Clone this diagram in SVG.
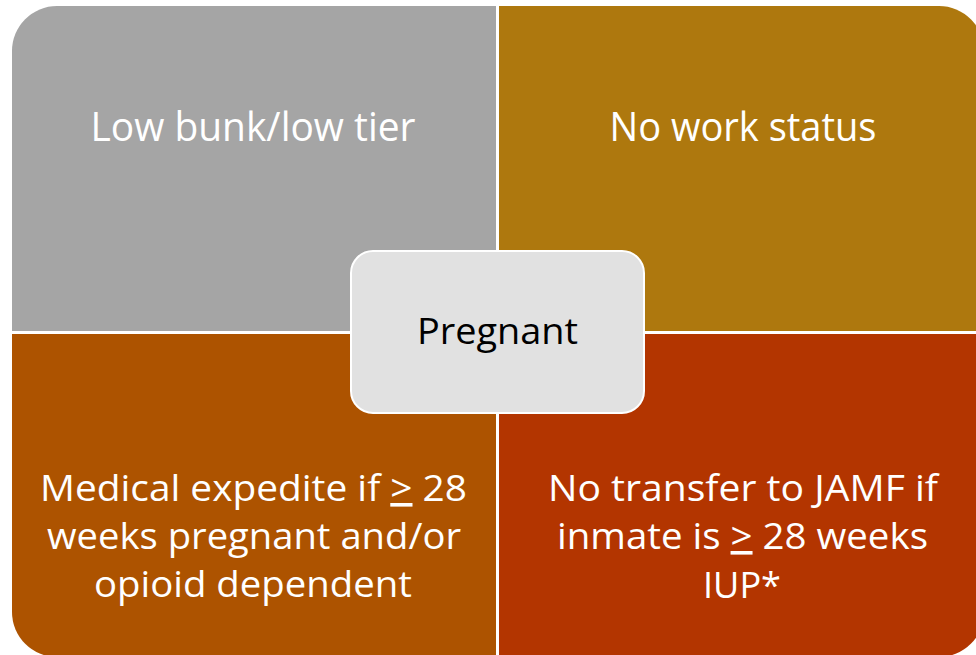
<svg xmlns="http://www.w3.org/2000/svg" width="976" height="655" viewBox="0 0 976 655">
<style>
.q{font-family:"Open Sans","Liberation Sans",sans-serif;fill:#ffffff;text-anchor:middle}
.c{font-family:"Open Sans","Liberation Sans",sans-serif;fill:#000000;text-anchor:middle}
.u{text-decoration:underline}
</style>
<rect width="976" height="655" fill="#ffffff"/>
<g id="q-top-left">
<path d="M12,51 A45,45 0 0 1 57,6 H496 V331 H12 Z" fill="#a5a5a5"/>
<text class="q" x="253" y="141" font-size="40" textLength="325" lengthAdjust="spacingAndGlyphs">Low bunk/low tier</text>
</g>
<g id="q-top-right">
<path d="M499,6 H939 A45,45 0 0 1 984,51 V331 H499 Z" fill="#ae780e"/>
<text class="q" x="743" y="141" font-size="40" textLength="267" lengthAdjust="spacingAndGlyphs">No work status</text>
</g>
<g id="q-bottom-left">
<path d="M12,334 H496 V657 H57 A45,45 0 0 1 12,612 Z" fill="#ad5300"/>
<text class="q" x="253.5" y="501" font-size="36" textLength="427" lengthAdjust="spacingAndGlyphs">Medical expedite if <tspan class="u">&gt;</tspan> 28</text>
<text class="q" x="254" y="549" font-size="36" textLength="414" lengthAdjust="spacingAndGlyphs">weeks pregnant and/or</text>
<text class="q" x="253" y="597" font-size="36" textLength="318" lengthAdjust="spacingAndGlyphs">opioid dependent</text>
</g>
<g id="q-bottom-right">
<path d="M499,334 H984 V612 A45,45 0 0 1 939,657 H499 Z" fill="#b33500"/>
<text class="q" x="743" y="501" font-size="36" textLength="390" lengthAdjust="spacingAndGlyphs">No transfer to JAMF if</text>
<text class="q" x="742.5" y="549" font-size="36" textLength="371" lengthAdjust="spacingAndGlyphs">inmate is <tspan class="u">&gt;</tspan> 28 weeks</text>
<text class="q" x="742" y="598" font-size="36" textLength="78" lengthAdjust="spacingAndGlyphs">IUP*</text>
</g>
<g id="center">
<rect x="351" y="251" width="293" height="162" rx="22" ry="22" fill="#e1e1e1" stroke="#ffffff" stroke-width="2"/>
<text class="c" x="497.5" y="344" font-size="36" textLength="161" lengthAdjust="spacingAndGlyphs">Pregnant</text>
</g>
<g id="connectors"></g>
</svg>
